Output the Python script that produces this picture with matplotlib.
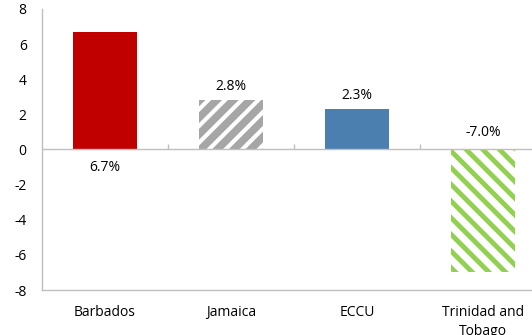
#!/usr/bin/env python3

import matplotlib
matplotlib.use("Agg")
import matplotlib.pyplot as plt
import numpy as np

countries = ["Barbados", "Jamaica", "ECCU", "Trinidad and\nTobago"]
values = [6.7, 2.8, 2.3, -7.0]
labels = ["6.7%", "2.8%", "2.3%", "-7.0%"]

plt.rcParams["font.family"] = ["Open Sans", "DejaVu Sans"]
plt.rcParams["axes.unicode_minus"] = False

fig = plt.figure(figsize=(5.32, 3.35), dpi=100)
ax = fig.add_axes([42 / 532, 1 - 290 / 335, 504 / 532, 281 / 335])

x = np.arange(len(countries))
w = 0.51
grey = "#BFBFBF"
fs = 10

ax.bar(x[0], values[0], w, color="#C00000")
plt.rcParams["hatch.linewidth"] = 5.5
ax.bar(x[1], values[1], w, color="white", edgecolor="#A6A6A6", hatch="//", linewidth=0)
ax.bar(x[2], values[2], w, color="#4A7FB0")
plt.rcParams["hatch.linewidth"] = 3.5
ax.bar(x[3], values[3], w, color="white", edgecolor="#92D050", hatch="\\\\", linewidth=0)

# zero line with category separator ticks
ax.axhline(0, color=grey, lw=1, zorder=3)
ax.vlines(x[1:] - 0.5, 0, 0.3, color=grey, lw=1, zorder=3)

# data labels
ax.annotate(labels[0], (x[0], 0), xytext=(0, -13), textcoords="offset points",
            ha="center", va="center", fontsize=fs)
ax.annotate(labels[1], (x[1], values[1]), xytext=(0, 10), textcoords="offset points",
            ha="center", va="center", fontsize=fs)
ax.annotate(labels[2], (x[2], values[2]), xytext=(0, 9.5), textcoords="offset points",
            ha="center", va="center", fontsize=fs)
ax.annotate(labels[3], (x[3], 0), xytext=(0, 12), textcoords="offset points",
            ha="center", va="center", fontsize=fs)

ax.set_xlim(-0.5, len(countries) - 0.5)
ax.set_ylim(-8, 8)
ax.set_yticks(np.arange(-8, 9, 2))
ax.set_xticks(x)
ax.set_xticklabels(countries, va="top", linespacing=1.35)
ax.tick_params(axis="both", length=0, labelsize=fs)
ax.tick_params(axis="x", pad=11)
ax.tick_params(axis="y", pad=11)

for s in ["top", "right"]:
    ax.spines[s].set_visible(False)
for s in ["left", "bottom"]:
    ax.spines[s].set_color(grey)
    ax.spines[s].set_linewidth(1)

fig.savefig("out.png", dpi=100)
plt.close()
